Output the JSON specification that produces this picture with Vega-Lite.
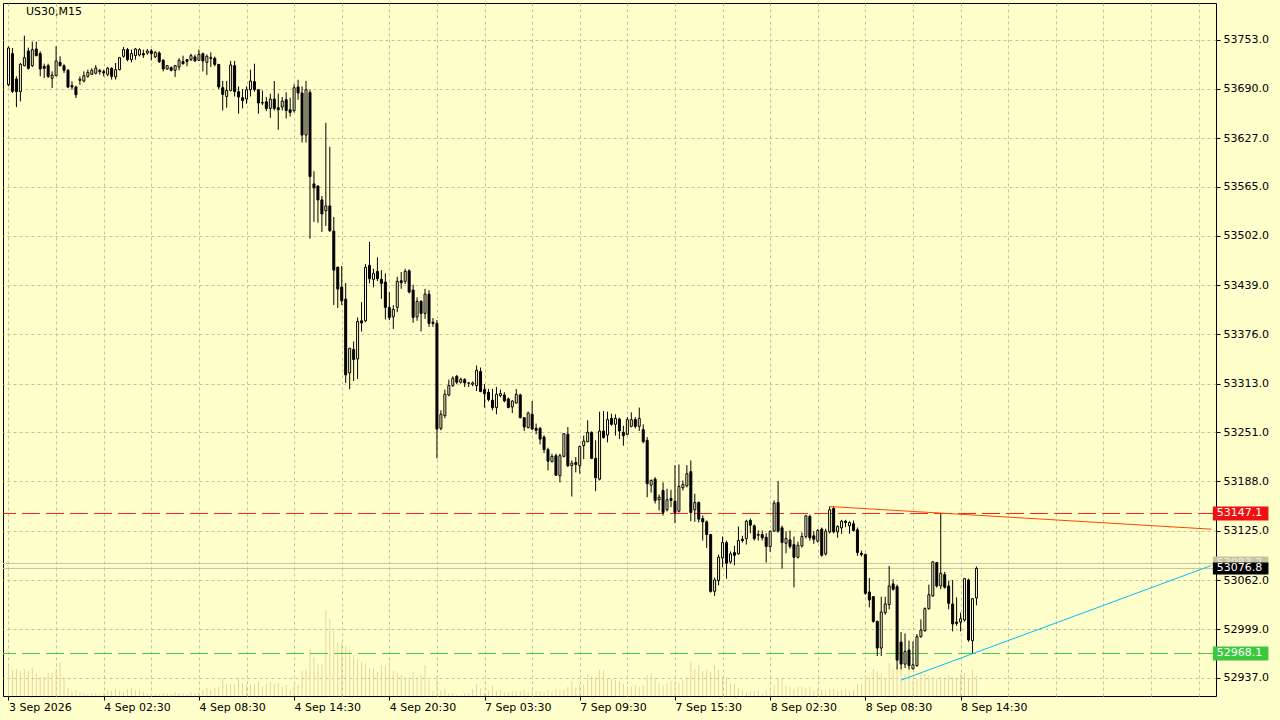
{
"$schema":"https://vega.github.io/schema/vega-lite/v6.json",
"width":1213,"height":693,
"autosize":{"type":"none"},
"padding":{"left":3,"top":3,"right":64,"bottom":24},
"background":"#FFFFCC",
"config":{"view":{"stroke":"#000000","strokeWidth":1,"fill":"#FFFFCC"},"font":"DejaVu Sans","axis":{"labelFont":"DejaVu Sans","labelFontSize":11,"labelColor":"#000000"}},
"datasets":{
"bars":[
{"i":0,"o":53695.3,"h":53744.5,"l":53693.2,"c":53742.3,"v":29},
{"i":1,"o":53735.1,"h":53742.3,"l":53684.7,"c":53686.8,"v":26},
{"i":2,"o":53702.6,"h":53706.0,"l":53666.7,"c":53686.4,"v":27},
{"i":3,"o":53686.4,"h":53723.1,"l":53674.0,"c":53721.4,"v":25},
{"i":4,"o":53719.7,"h":53758.1,"l":53718.8,"c":53729.9,"v":27},
{"i":5,"o":53738.5,"h":53742.7,"l":53714.6,"c":53716.3,"v":26},
{"i":6,"o":53719.7,"h":53750.4,"l":53718.0,"c":53740.2,"v":28},
{"i":7,"o":53741.0,"h":53750.4,"l":53731.6,"c":53732.5,"v":22},
{"i":8,"o":53735.1,"h":53738.0,"l":53706.0,"c":53715.4,"v":19},
{"i":9,"o":53718.8,"h":53722.2,"l":53703.9,"c":53716.3,"v":19},
{"i":10,"o":53719.7,"h":53722.2,"l":53703.9,"c":53706.0,"v":23},
{"i":11,"o":53703.5,"h":53712.4,"l":53691.1,"c":53707.7,"v":23},
{"i":12,"o":53706.9,"h":53744.5,"l":53706.0,"c":53725.7,"v":26},
{"i":13,"o":53724.0,"h":53731.6,"l":53718.8,"c":53719.7,"v":34},
{"i":14,"o":53719.7,"h":53721.4,"l":53710.3,"c":53713.7,"v":19},
{"i":15,"o":53713.7,"h":53715.4,"l":53691.0,"c":53692.4,"v":8},
{"i":16,"o":53694.1,"h":53699.6,"l":53688.9,"c":53692.4,"v":5},
{"i":17,"o":53692.4,"h":53694.1,"l":53678.3,"c":53682.5,"v":6},
{"i":18,"o":53700.9,"h":53706.0,"l":53695.3,"c":53702.6,"v":4},
{"i":19,"o":53700.0,"h":53712.4,"l":53698.3,"c":53706.9,"v":3},
{"i":20,"o":53706.0,"h":53714.6,"l":53704.3,"c":53711.1,"v":2},
{"i":21,"o":53708.6,"h":53716.3,"l":53707.7,"c":53713.7,"v":3},
{"i":22,"o":53709.9,"h":53720.5,"l":53708.6,"c":53716.7,"v":3},
{"i":23,"o":53713.7,"h":53715.4,"l":53708.2,"c":53712.0,"v":2},
{"i":24,"o":53712.0,"h":53714.6,"l":53706.0,"c":53710.3,"v":3},
{"i":25,"o":53708.6,"h":53718.0,"l":53706.0,"c":53716.3,"v":5},
{"i":26,"o":53716.3,"h":53718.0,"l":53701.8,"c":53706.0,"v":5},
{"i":27,"o":53705.2,"h":53723.1,"l":53701.8,"c":53714.6,"v":7},
{"i":28,"o":53714.6,"h":53730.8,"l":53713.7,"c":53729.9,"v":5},
{"i":29,"o":53731.6,"h":53743.6,"l":53729.9,"c":53740.2,"v":4},
{"i":30,"o":53740.2,"h":53742.3,"l":53725.2,"c":53727.4,"v":7},
{"i":31,"o":53727.4,"h":53740.2,"l":53724.0,"c":53735.1,"v":8},
{"i":32,"o":53732.5,"h":53742.3,"l":53727.4,"c":53741.0,"v":6},
{"i":33,"o":53733.3,"h":53741.9,"l":53731.6,"c":53740.2,"v":5},
{"i":34,"o":53735.1,"h":53740.2,"l":53729.5,"c":53733.3,"v":4},
{"i":35,"o":53735.9,"h":53741.0,"l":53733.8,"c":53738.5,"v":3},
{"i":36,"o":53738.5,"h":53741.0,"l":53726.5,"c":53735.1,"v":2},
{"i":37,"o":53730.8,"h":53738.0,"l":53729.5,"c":53736.8,"v":2},
{"i":38,"o":53735.9,"h":53738.0,"l":53723.1,"c":53724.8,"v":2},
{"i":39,"o":53726.5,"h":53728.2,"l":53712.4,"c":53715.4,"v":3},
{"i":40,"o":53715.4,"h":53720.5,"l":53714.6,"c":53719.7,"v":3},
{"i":41,"o":53717.1,"h":53718.8,"l":53712.4,"c":53713.7,"v":2},
{"i":42,"o":53713.7,"h":53720.6,"l":53705.2,"c":53719.7,"v":4},
{"i":43,"o":53718.0,"h":53729.0,"l":53713.7,"c":53726.5,"v":3},
{"i":44,"o":53724.8,"h":53732.5,"l":53721.0,"c":53722.2,"v":3},
{"i":45,"o":53727.4,"h":53728.2,"l":53718.8,"c":53724.8,"v":2},
{"i":46,"o":53727.4,"h":53735.0,"l":53725.7,"c":53732.5,"v":4},
{"i":47,"o":53730.8,"h":53733.8,"l":53724.8,"c":53725.7,"v":3},
{"i":48,"o":53726.5,"h":53740.2,"l":53725.7,"c":53734.1,"v":4},
{"i":49,"o":53735.0,"h":53736.3,"l":53712.4,"c":53725.7,"v":6},
{"i":50,"o":53723.9,"h":53734.1,"l":53707.7,"c":53731.6,"v":8},
{"i":51,"o":53729.9,"h":53736.7,"l":53718.0,"c":53729.0,"v":6},
{"i":52,"o":53729.0,"h":53731.2,"l":53718.8,"c":53721.3,"v":8},
{"i":53,"o":53721.3,"h":53721.3,"l":53689.8,"c":53692.4,"v":9},
{"i":54,"o":53691.5,"h":53700.1,"l":53662.4,"c":53682.9,"v":18},
{"i":55,"o":53680.3,"h":53700.1,"l":53665.9,"c":53688.0,"v":12},
{"i":56,"o":53688.0,"h":53725.7,"l":53686.7,"c":53720.6,"v":12},
{"i":57,"o":53719.7,"h":53725.7,"l":53680.3,"c":53686.4,"v":12},
{"i":58,"o":53686.4,"h":53693.1,"l":53658.2,"c":53679.6,"v":19},
{"i":59,"o":53678.7,"h":53689.8,"l":53665.0,"c":53675.2,"v":13},
{"i":60,"o":53677.0,"h":53693.1,"l":53671.0,"c":53688.9,"v":11},
{"i":61,"o":53688.9,"h":53714.5,"l":53680.3,"c":53700.1,"v":11},
{"i":62,"o":53699.2,"h":53722.2,"l":53686.4,"c":53688.9,"v":12},
{"i":63,"o":53688.9,"h":53689.8,"l":53658.2,"c":53671.9,"v":14},
{"i":64,"o":53672.6,"h":53688.0,"l":53669.3,"c":53671.9,"v":10},
{"i":65,"o":53673.5,"h":53679.6,"l":53661.6,"c":53665.0,"v":12},
{"i":66,"o":53665.0,"h":53683.8,"l":53653.0,"c":53677.0,"v":14},
{"i":67,"o":53677.0,"h":53700.1,"l":53662.4,"c":53665.0,"v":12},
{"i":68,"o":53665.9,"h":53683.8,"l":53637.7,"c":53663.3,"v":13},
{"i":69,"o":53666.8,"h":53679.6,"l":53662.4,"c":53674.4,"v":9},
{"i":70,"o":53676.1,"h":53685.5,"l":53652.2,"c":53662.4,"v":11},
{"i":71,"o":53663.3,"h":53678.7,"l":53654.7,"c":53659.8,"v":6},
{"i":72,"o":53662.4,"h":53695.7,"l":53659.8,"c":53691.5,"v":11},
{"i":73,"o":53692.4,"h":53701.7,"l":53676.1,"c":53684.7,"v":11},
{"i":74,"o":53684.7,"h":53693.1,"l":53621.4,"c":53630.9,"v":25},
{"i":75,"o":53630.9,"h":53700.1,"l":53621.4,"c":53688.9,"v":26},
{"i":76,"o":53685.5,"h":53688.9,"l":53498.4,"c":53577.9,"v":47},
{"i":77,"o":53568.5,"h":53584.8,"l":53519.8,"c":53563.4,"v":39},
{"i":78,"o":53565.9,"h":53565.9,"l":53518.9,"c":53548.0,"v":32},
{"i":79,"o":53548.0,"h":53553.1,"l":53507.0,"c":53530.1,"v":32},
{"i":80,"o":53534.3,"h":53646.6,"l":53514.7,"c":53540.3,"v":86},
{"i":81,"o":53540.3,"h":53615.9,"l":53507.0,"c":53508.7,"v":77},
{"i":82,"o":53508.3,"h":53526.2,"l":53413.5,"c":53458.3,"v":65},
{"i":83,"o":53462.2,"h":53462.2,"l":53409.7,"c":53434.0,"v":53},
{"i":84,"o":53436.6,"h":53463.5,"l":53413.5,"c":53419.0,"v":53},
{"i":85,"o":53421.2,"h":53441.7,"l":53314.0,"c":53324.2,"v":50},
{"i":86,"o":53326.8,"h":53358.4,"l":53305.9,"c":53358.4,"v":46},
{"i":87,"o":53356.8,"h":53367.0,"l":53316.5,"c":53343.9,"v":41},
{"i":88,"o":53344.7,"h":53397.7,"l":53319.1,"c":53392.6,"v":37},
{"i":89,"o":53393.4,"h":53417.3,"l":53379.8,"c":53390.8,"v":34},
{"i":90,"o":53393.4,"h":53466.0,"l":53391.7,"c":53461.8,"v":32},
{"i":91,"o":53464.4,"h":53494.2,"l":53441.3,"c":53447.2,"v":28},
{"i":92,"o":53446.4,"h":53460.0,"l":53436.2,"c":53454.1,"v":27},
{"i":93,"o":53456.7,"h":53474.6,"l":53444.2,"c":53447.2,"v":24},
{"i":94,"o":53446.4,"h":53458.3,"l":53421.6,"c":53441.3,"v":31},
{"i":95,"o":53443.0,"h":53454.1,"l":53395.2,"c":53410.6,"v":30},
{"i":96,"o":53410.6,"h":53430.2,"l":53394.3,"c":53397.7,"v":34},
{"i":97,"o":53398.5,"h":53413.5,"l":53383.1,"c":53408.0,"v":25},
{"i":98,"o":53410.6,"h":53449.8,"l":53404.5,"c":53443.9,"v":23},
{"i":99,"o":53444.6,"h":53455.8,"l":53434.4,"c":53442.1,"v":21},
{"i":100,"o":53443.9,"h":53460.0,"l":53440.4,"c":53456.7,"v":19},
{"i":101,"o":53457.4,"h":53459.2,"l":53428.5,"c":53430.2,"v":19},
{"i":102,"o":53432.7,"h":53439.5,"l":53390.8,"c":53397.7,"v":24},
{"i":103,"o":53398.5,"h":53423.4,"l":53393.4,"c":53418.2,"v":19},
{"i":104,"o":53418.2,"h":53419.9,"l":53379.8,"c":53402.9,"v":21},
{"i":105,"o":53402.9,"h":53434.4,"l":53396.0,"c":53427.6,"v":31},
{"i":106,"o":53427.6,"h":53432.7,"l":53385.7,"c":53390.1,"v":16},
{"i":107,"o":53391.7,"h":53396.9,"l":53385.7,"c":53390.1,"v":5},
{"i":108,"o":53390.1,"h":53394.3,"l":53217.5,"c":53255.0,"v":19},
{"i":109,"o":53255.9,"h":53279.0,"l":53253.4,"c":53273.9,"v":5},
{"i":110,"o":53272.2,"h":53305.5,"l":53268.7,"c":53299.5,"v":7},
{"i":111,"o":53298.6,"h":53318.3,"l":53296.9,"c":53310.6,"v":3},
{"i":112,"o":53310.6,"h":53322.5,"l":53308.8,"c":53320.0,"v":3},
{"i":113,"o":53322.5,"h":53324.2,"l":53312.3,"c":53314.9,"v":1},
{"i":114,"o":53314.9,"h":53320.9,"l":53313.2,"c":53318.3,"v":1},
{"i":115,"o":53318.3,"h":53320.0,"l":53308.8,"c":53314.0,"v":3},
{"i":116,"o":53314.0,"h":53314.9,"l":53308.8,"c":53313.6,"v":3},
{"i":117,"o":53312.3,"h":53315.8,"l":53309.7,"c":53314.0,"v":7},
{"i":118,"o":53310.6,"h":53336.3,"l":53303.7,"c":53330.3,"v":12},
{"i":119,"o":53328.6,"h":53333.7,"l":53302.1,"c":53303.0,"v":8},
{"i":120,"o":53305.5,"h":53312.3,"l":53282.5,"c":53300.4,"v":3},
{"i":121,"o":53302.1,"h":53306.3,"l":53290.5,"c":53292.7,"v":5},
{"i":122,"o":53291.8,"h":53306.3,"l":53279.0,"c":53282.5,"v":10},
{"i":123,"o":53282.5,"h":53308.8,"l":53273.9,"c":53299.5,"v":5},
{"i":124,"o":53297.8,"h":53305.5,"l":53295.6,"c":53300.4,"v":6},
{"i":125,"o":53298.6,"h":53302.1,"l":53289.2,"c":53290.9,"v":4},
{"i":126,"o":53293.5,"h":53295.3,"l":53281.6,"c":53282.5,"v":4},
{"i":127,"o":53283.2,"h":53291.8,"l":53275.5,"c":53290.9,"v":5},
{"i":128,"o":53288.3,"h":53306.3,"l":53287.6,"c":53299.5,"v":5},
{"i":129,"o":53298.6,"h":53300.4,"l":53268.7,"c":53269.6,"v":5},
{"i":130,"o":53269.6,"h":53269.6,"l":53252.5,"c":53257.6,"v":6},
{"i":131,"o":53256.8,"h":53277.3,"l":53255.9,"c":53275.5,"v":4},
{"i":132,"o":53273.9,"h":53290.9,"l":53254.3,"c":53255.0,"v":5},
{"i":133,"o":53255.9,"h":53262.0,"l":53248.3,"c":53253.4,"v":5},
{"i":134,"o":53255.9,"h":53257.6,"l":53235.4,"c":53242.2,"v":5},
{"i":135,"o":53244.8,"h":53247.0,"l":53224.3,"c":53228.7,"v":4},
{"i":136,"o":53228.7,"h":53231.2,"l":53202.1,"c":53214.0,"v":6},
{"i":137,"o":53213.3,"h":53223.5,"l":53212.4,"c":53220.1,"v":5},
{"i":138,"o":53221.0,"h":53223.5,"l":53195.3,"c":53196.1,"v":7},
{"i":139,"o":53195.3,"h":53223.5,"l":53186.8,"c":53221.0,"v":6},
{"i":140,"o":53220.1,"h":53249.9,"l":53218.8,"c":53249.1,"v":6},
{"i":141,"o":53248.3,"h":53257.6,"l":53206.4,"c":53208.2,"v":9},
{"i":142,"o":53208.2,"h":53214.9,"l":53168.8,"c":53211.5,"v":15},
{"i":143,"o":53212.4,"h":53219.2,"l":53199.6,"c":53209.8,"v":9},
{"i":144,"o":53208.2,"h":53233.8,"l":53197.9,"c":53232.9,"v":11},
{"i":145,"o":53233.8,"h":53246.6,"l":53216.6,"c":53239.7,"v":11},
{"i":146,"o":53238.9,"h":53266.2,"l":53238.0,"c":53250.8,"v":22},
{"i":147,"o":53250.8,"h":53252.1,"l":53216.6,"c":53217.5,"v":20},
{"i":148,"o":53217.5,"h":53240.6,"l":53175.6,"c":53192.8,"v":19},
{"i":149,"o":53191.0,"h":53277.3,"l":53189.3,"c":53252.5,"v":26},
{"i":150,"o":53252.5,"h":53278.1,"l":53243.1,"c":53244.0,"v":26},
{"i":151,"o":53247.4,"h":53277.3,"l":53238.0,"c":53267.1,"v":18},
{"i":152,"o":53268.7,"h":53274.8,"l":53259.4,"c":53261.1,"v":17},
{"i":153,"o":53261.1,"h":53273.9,"l":53246.6,"c":53268.7,"v":16},
{"i":154,"o":53267.9,"h":53269.6,"l":53242.2,"c":53252.5,"v":15},
{"i":155,"o":53250.8,"h":53259.4,"l":53233.8,"c":53246.6,"v":12},
{"i":156,"o":53248.3,"h":53270.4,"l":53247.0,"c":53267.1,"v":10},
{"i":157,"o":53258.5,"h":53276.4,"l":53257.2,"c":53267.1,"v":9},
{"i":158,"o":53267.1,"h":53270.4,"l":53255.9,"c":53258.5,"v":11},
{"i":159,"o":53258.5,"h":53282.5,"l":53252.5,"c":53268.7,"v":9},
{"i":160,"o":53254.3,"h":53261.1,"l":53236.7,"c":53238.9,"v":11},
{"i":161,"o":53240.6,"h":53244.8,"l":53167.9,"c":53185.1,"v":21},
{"i":162,"o":53183.3,"h":53190.6,"l":53173.9,"c":53189.3,"v":23},
{"i":163,"o":53191.0,"h":53193.5,"l":53159.8,"c":53163.7,"v":19},
{"i":164,"o":53164.6,"h":53171.4,"l":53150.9,"c":53167.9,"v":13},
{"i":165,"o":53176.5,"h":53186.8,"l":53144.5,"c":53148.3,"v":11},
{"i":166,"o":53151.8,"h":53178.7,"l":53149.6,"c":53164.6,"v":13},
{"i":167,"o":53166.3,"h":53177.4,"l":53155.1,"c":53163.7,"v":15},
{"i":168,"o":53162.8,"h":53208.9,"l":53134.6,"c":53148.3,"v":13},
{"i":169,"o":53150.0,"h":53209.8,"l":53148.3,"c":53181.6,"v":13},
{"i":170,"o":53180.0,"h":53189.3,"l":53176.5,"c":53184.2,"v":16},
{"i":171,"o":53182.5,"h":53208.9,"l":53180.4,"c":53197.9,"v":19},
{"i":172,"o":53200.5,"h":53214.9,"l":53137.2,"c":53148.3,"v":35},
{"i":173,"o":53151.8,"h":53172.3,"l":53136.4,"c":53161.1,"v":27},
{"i":174,"o":53161.1,"h":53162.4,"l":53135.5,"c":53139.8,"v":31},
{"i":175,"o":53140.6,"h":53144.5,"l":53112.5,"c":53136.4,"v":25},
{"i":176,"o":53136.4,"h":53138.1,"l":53103.1,"c":53120.2,"v":27},
{"i":177,"o":53120.2,"h":53121.0,"l":53045.9,"c":53047.5,"v":24},
{"i":178,"o":53047.5,"h":53065.1,"l":53041.6,"c":53062.1,"v":31},
{"i":179,"o":53061.2,"h":53094.5,"l":53055.2,"c":53091.1,"v":26},
{"i":180,"o":53090.3,"h":53117.6,"l":53078.3,"c":53109.9,"v":19},
{"i":181,"o":53109.9,"h":53112.5,"l":53063.8,"c":53083.4,"v":19},
{"i":182,"o":53085.2,"h":53098.4,"l":53083.0,"c":53095.4,"v":13},
{"i":183,"o":53097.1,"h":53105.7,"l":53080.8,"c":53093.6,"v":12},
{"i":184,"o":53095.4,"h":53130.4,"l":53094.5,"c":53112.5,"v":8},
{"i":185,"o":53114.1,"h":53118.5,"l":53109.9,"c":53112.5,"v":6},
{"i":186,"o":53115.0,"h":53139.0,"l":53107.3,"c":53137.2,"v":4},
{"i":187,"o":53138.1,"h":53140.6,"l":53121.8,"c":53132.1,"v":5},
{"i":188,"o":53131.3,"h":53133.0,"l":53112.5,"c":53115.0,"v":5},
{"i":189,"o":53120.2,"h":53125.3,"l":53112.5,"c":53119.3,"v":5},
{"i":190,"o":53120.2,"h":53125.3,"l":53112.5,"c":53116.0,"v":3},
{"i":191,"o":53116.7,"h":53121.8,"l":53084.3,"c":53104.8,"v":6},
{"i":192,"o":53104.8,"h":53125.3,"l":53098.0,"c":53124.4,"v":6},
{"i":193,"o":53124.4,"h":53163.7,"l":53124.0,"c":53160.3,"v":11},
{"i":194,"o":53161.1,"h":53188.4,"l":53122.7,"c":53124.4,"v":17},
{"i":195,"o":53128.7,"h":53131.7,"l":53076.6,"c":53109.9,"v":17},
{"i":196,"o":53109.0,"h":53124.4,"l":53096.2,"c":53115.0,"v":10},
{"i":197,"o":53113.4,"h":53125.3,"l":53102.2,"c":53104.8,"v":9},
{"i":198,"o":53107.3,"h":53117.6,"l":53052.6,"c":53091.1,"v":7},
{"i":199,"o":53091.1,"h":53111.2,"l":53089.4,"c":53106.4,"v":9},
{"i":200,"o":53105.7,"h":53122.7,"l":53103.5,"c":53117.6,"v":9},
{"i":201,"o":53117.6,"h":53144.9,"l":53115.0,"c":53144.1,"v":8},
{"i":202,"o":53143.2,"h":53145.8,"l":53112.5,"c":53116.0,"v":9},
{"i":203,"o":53118.5,"h":53124.4,"l":53108.2,"c":53114.1,"v":5},
{"i":204,"o":53111.6,"h":53127.0,"l":53109.9,"c":53125.3,"v":7},
{"i":205,"o":53127.0,"h":53129.1,"l":53092.0,"c":53093.6,"v":6},
{"i":206,"o":53095.4,"h":53127.5,"l":53093.3,"c":53124.4,"v":6},
{"i":207,"o":53123.6,"h":53156.0,"l":53121.4,"c":53151.8,"v":7},
{"i":208,"o":53153.5,"h":53156.0,"l":53121.4,"c":53123.6,"v":7},
{"i":209,"o":53123.6,"h":53132.1,"l":53116.0,"c":53130.4,"v":5},
{"i":210,"o":53128.7,"h":53139.0,"l":53121.0,"c":53137.2,"v":6},
{"i":211,"o":53137.2,"h":53139.0,"l":53129.5,"c":53135.5,"v":7},
{"i":212,"o":53131.3,"h":53137.2,"l":53121.0,"c":53135.5,"v":5},
{"i":213,"o":53133.9,"h":53138.1,"l":53124.0,"c":53125.3,"v":6},
{"i":214,"o":53126.2,"h":53129.1,"l":53092.9,"c":53097.1,"v":12},
{"i":215,"o":53096.2,"h":53099.7,"l":53092.0,"c":53094.5,"v":12},
{"i":216,"o":53094.5,"h":53095.8,"l":53043.3,"c":53045.0,"v":21},
{"i":217,"o":53046.7,"h":53064.7,"l":53027.0,"c":53036.5,"v":19},
{"i":218,"o":53040.7,"h":53040.7,"l":53007.4,"c":53009.1,"v":27},
{"i":219,"o":53009.1,"h":53010.0,"l":52964.8,"c":52975.0,"v":25},
{"i":220,"o":52975.0,"h":53040.7,"l":52964.8,"c":53021.2,"v":23},
{"i":221,"o":53020.3,"h":53040.7,"l":53017.7,"c":53031.4,"v":17},
{"i":222,"o":53030.5,"h":53080.1,"l":53024.5,"c":53054.4,"v":33},
{"i":223,"o":53057.0,"h":53062.9,"l":53048.4,"c":53050.1,"v":27},
{"i":224,"o":53053.5,"h":53056.1,"l":52947.6,"c":52959.6,"v":31},
{"i":225,"o":52982.7,"h":52995.5,"l":52947.6,"c":52954.5,"v":29},
{"i":226,"o":52954.5,"h":52993.7,"l":52949.4,"c":52970.7,"v":22},
{"i":227,"o":52972.5,"h":52984.4,"l":52947.6,"c":52952.7,"v":29},
{"i":228,"o":52948.5,"h":52983.5,"l":52947.6,"c":52953.6,"v":17},
{"i":229,"o":52952.7,"h":52993.0,"l":52951.1,"c":52989.5,"v":17},
{"i":230,"o":52989.5,"h":53011.7,"l":52988.2,"c":52998.1,"v":24},
{"i":231,"o":52997.2,"h":53027.0,"l":52995.9,"c":53025.4,"v":22},
{"i":232,"o":53025.4,"h":53056.1,"l":53024.1,"c":53043.3,"v":21},
{"i":233,"o":53041.6,"h":53086.0,"l":53040.7,"c":53085.2,"v":19},
{"i":234,"o":53084.3,"h":53085.2,"l":53052.3,"c":53054.4,"v":17},
{"i":235,"o":53054.4,"h":53147.1,"l":53050.1,"c":53070.6,"v":19},
{"i":236,"o":53068.9,"h":53072.4,"l":53051.0,"c":53052.6,"v":17},
{"i":237,"o":53054.4,"h":53061.2,"l":53024.5,"c":53032.2,"v":21},
{"i":238,"o":53031.4,"h":53062.1,"l":52996.3,"c":53005.8,"v":19},
{"i":239,"o":53008.3,"h":53039.8,"l":53003.6,"c":53006.5,"v":17},
{"i":240,"o":53008.3,"h":53020.3,"l":52996.3,"c":53012.5,"v":22},
{"i":241,"o":53010.9,"h":53064.7,"l":53008.7,"c":53063.8,"v":23},
{"i":242,"o":53062.1,"h":53063.8,"l":52983.1,"c":52985.3,"v":18},
{"i":243,"o":52984.4,"h":53038.2,"l":52968.1,"c":53038.2,"v":26},
{"i":244,"o":53039.1,"h":53079.2,"l":53029.6,"c":53076.8,"v":20}
],
"levels":[
{"name":"ask","p":53083.2},
{"name":"bid","p":53076.8},
{"name":"res","p":53147.1},
{"name":"sup","p":52968.1}
],
"trends":[
{"t":"red","i":207,"p":53156.0},
{"t":"red","i":303.2,"p":53127.0},
{"t":"blue","i":225,"p":52934.0},
{"t":"blue","i":303.2,"p":53080.5}
],
"tags":[
{"name":"ask","p":53083.2,"label":"53083.2"},
{"name":"res","p":53147.1,"label":"53147.1"},
{"name":"bid","p":53076.8,"label":"53076.8"},
{"name":"sup","p":52968.1,"label":"52968.1"}
],
"title":[{"label":"US30,M15"}]
},
"resolve":{"scale":{"y":"independent"}},
"layer":[
{
"data":{"name":"bars"},
"mark":{"type":"rule","color":"#E6D49A","strokeWidth":1},
"encoding":{
"x":{"field":"i","type":"quantitative","scale":{"domain":[-0.125,303.125],"nice":false,"zero":false},
"axis":{"values":[0,12,24,36,48,60,72,84,96,108,120,132,144,156,168,180,192,204,216,228,240,252,264,276,288,300],
"title":null,"domain":false,"grid":true,"gridColor":"#C8C09A","gridDash":[3,3],"gridWidth":1,
"tickSize":4,"tickColor":"#000000","tickOpacity":{"condition":{"test":"datum.value % 24 === 0 && datum.value <= 240","value":1},"value":0},
"labelAlign":"left","labelBaseline":"top","labelPadding":1,"labelOverlap":false,"labelFlush":false,"labelBound":false,
"labelExpr":"(datum.value % 24 === 0 && datum.value <= 240) ? ['3 Sep 2026','4 Sep 02:30','4 Sep 08:30','4 Sep 14:30','4 Sep 20:30','7 Sep 03:30','7 Sep 09:30','7 Sep 15:30','8 Sep 02:30','8 Sep 08:30','8 Sep 14:30'][datum.value/24] : ''"}},
"y":{"field":"v","type":"quantitative","scale":{"domain":[0,693],"nice":false,"zero":true},"axis":null},
"y2":{"datum":0}
}
},
{
"layer":[
{
"data":{"name":"levels"},
"transform":[{"filter":"datum.name === 'ask' || datum.name === 'bid'"}],
"mark":{"type":"rule","color":"#C8C3A0","strokeWidth":1},
"encoding":{
"y":{"field":"p","type":"quantitative","scale":{"domain":[52913.7,53799.8],"nice":false,"zero":false},
"axis":{"orient":"right","values":[53753,53690,53627,53565,53502,53439,53376,53313,53251,53188,53125,53062,52999,52937],"format":".1f","title":null,"domain":false,"grid":true,"gridColor":"#C8C09A","gridDash":[3,3],"gridWidth":1,"tickSize":4,"tickColor":"#000000","labelPadding":3,"labelOverlap":false,"labelBound":false,"labelFlush":false}}
}
},
{
"data":{"name":"levels"},
"transform":[{"filter":"datum.name === 'res'"}],
"mark":{"type":"rule","color":"#FF1A1A","strokeWidth":1,"strokeDash":[18,6]},
"encoding":{"y":{"field":"p","type":"quantitative"}}
},
{
"data":{"name":"levels"},
"transform":[{"filter":"datum.name === 'sup'"}],
"mark":{"type":"rule","color":"#40CC40","strokeWidth":1,"strokeDash":[18,6]},
"encoding":{"y":{"field":"p","type":"quantitative"}}
},
{
"data":{"name":"bars"},
"mark":{"type":"rule","color":"#000000","strokeWidth":1},
"encoding":{
"x":{"field":"i","type":"quantitative"},
"y":{"field":"l","type":"quantitative"},
"y2":{"field":"h"}
}
},
{
"data":{"name":"bars"},
"mark":{"type":"bar","size":2,"stroke":"#000000","strokeWidth":1},
"encoding":{
"x":{"field":"i","type":"quantitative"},
"y":{"field":"o","type":"quantitative"},
"y2":{"field":"c"},
"fill":{"condition":{"test":"datum.o > datum.c","value":"#000000"},"value":"#FFFFCC"}
}
},
{
"data":{"name":"trends"},
"transform":[{"filter":"datum.t === 'red'"}],
"mark":{"type":"line","strokeWidth":1,"color":"#FF4500"},
"encoding":{
"x":{"field":"i","type":"quantitative"},
"y":{"field":"p","type":"quantitative"}
}
},
{
"data":{"name":"trends"},
"transform":[{"filter":"datum.t === 'blue'"}],
"mark":{"type":"line","strokeWidth":1,"color":"#00BFFF"},
"encoding":{
"x":{"field":"i","type":"quantitative"},
"y":{"field":"p","type":"quantitative"}
}
},
{
"data":{"name":"tags"},
"transform":[{"filter":"datum.name === 'ask'"}],
"mark":{"type":"rule","strokeWidth":14,"strokeCap":"butt","color":"#C8C3A0"},
"encoding":{"x":{"datum":303.6},"x2":{"datum":317.6},"y":{"field":"p","type":"quantitative"}}
},
{
"data":{"name":"tags"},
"transform":[{"filter":"datum.name === 'ask'"}],
"mark":{"type":"text","align":"left","baseline":"middle","font":"DejaVu Sans","fontSize":11,"color":"#EDEBDF"},
"encoding":{"x":{"datum":304.6},"y":{"field":"p","type":"quantitative"},"text":{"field":"label"}}
},
{
"data":{"name":"tags"},
"transform":[{"filter":"datum.name === 'res'"}],
"mark":{"type":"rule","strokeWidth":14,"strokeCap":"butt","color":"#F01010"},
"encoding":{"x":{"datum":303.6},"x2":{"datum":317.6},"y":{"field":"p","type":"quantitative"}}
},
{
"data":{"name":"tags"},
"transform":[{"filter":"datum.name === 'bid'"}],
"mark":{"type":"rule","strokeWidth":12,"strokeCap":"butt","color":"#000000"},
"encoding":{"x":{"datum":303.6},"x2":{"datum":317.6},"y":{"field":"p","type":"quantitative"}}
},
{
"data":{"name":"tags"},
"transform":[{"filter":"datum.name === 'sup'"}],
"mark":{"type":"rule","strokeWidth":14,"strokeCap":"butt","color":"#3CC83C"},
"encoding":{"x":{"datum":303.6},"x2":{"datum":317.6},"y":{"field":"p","type":"quantitative"}}
},
{
"data":{"name":"tags"},
"transform":[{"filter":"datum.name !== 'ask'"}],
"mark":{"type":"text","align":"left","baseline":"middle","font":"DejaVu Sans","fontSize":11,"color":"#FFFFFF"},
"encoding":{"x":{"datum":304.6},"y":{"field":"p","type":"quantitative"},"text":{"field":"label"}}
},
{
"data":{"name":"title"},
"mark":{"type":"text","align":"left","baseline":"middle","font":"DejaVu Sans","fontSize":11,"color":"#000000"},
"encoding":{
"x":{"datum":4.4},
"y":{"datum":53787.7},
"text":{"field":"label"}
}
}
]
}
]
}
